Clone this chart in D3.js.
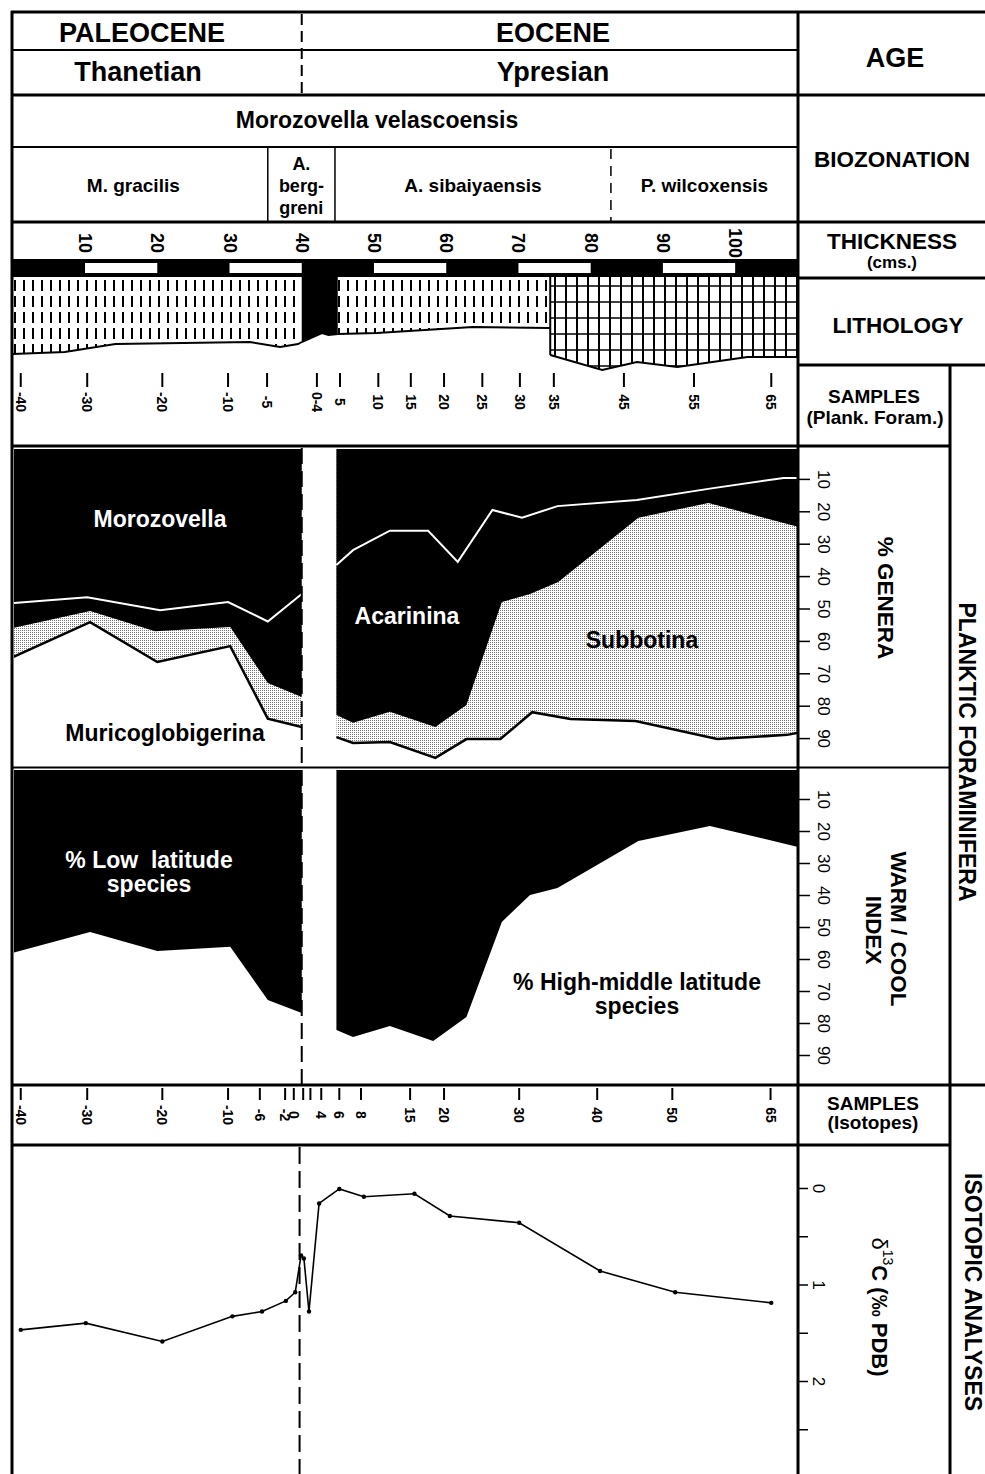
<!DOCTYPE html>
<html>
<head>
<meta charset="utf-8">
<script src="https://cdn.jsdelivr.net/npm/d3@7"></script>
<style>
body { margin: 0; background: #fff; }
svg { display: block; font-family: "Liberation Sans", Arial, Helvetica, sans-serif; }
</style>
</head>
<body>
<svg width="985" height="1474"></svg>
<script>
var font = "'Liberation Sans', Arial, Helvetica, sans-serif";
var svg = d3.select("svg");

// ---------------- data (thickness in cm along the section) ----------------
var thicknessTicks = [10, 20, 30, 40, 50, 60, 70, 80, 90, 100];
var barWhite = [[10, 20], [30, 40], [50, 60], [70, 80], [90, 100]];
var sectionEnd = 108.7;
var peBoundary = 40.0;     // Paleocene / Eocene
var isoBoundary = 39.7;

var zoneEdges = [0, 35.3, 44.6, 82.8, 108.7];

var plankLabels = ["-40", "-30", "-20", "-10", "-5", "0-4", "5", "10", "15", "20", "25", "30", "35", "45", "55", "65"];
var plankPos = [1.1, 10.3, 20.7, 29.8, 35.2, 42.1, 45.3, 50.6, 55.1, 59.7, 65.0, 70.2, 74.9, 84.6, 94.3, 105.0];

var isoLabels = ["-40", "-30", "-20", "-10", "-6", "-2", "0", "", "", "4", "6", "8", "15", "20", "30", "40", "50", "65"];
var isoPos = [1.1, 10.3, 20.7, 29.8, 34.2, 37.7, 38.9, 40.2, 41.2, 42.7, 45.2, 48.2, 55.0, 59.7, 70.1, 80.9, 91.3, 104.9];

// lithology: base of each unit (depth below top of column, 0-100)
var marl1X = [0, 7.2, 14.2, 32.8, 37.0, 39.5, 40.0];
var marl1Base = [77, 75, 67, 65, 70, 67, 65];
var clayX = [40.0, 42.8, 43.7, 45.0];
var clayBase = [65, 56, 58, 57];
var marl2X = [45.0, 50.4, 63.7, 74.4];
var marl2Base = [57, 56, 50, 51];
var limeX = [74.4, 81.6, 86.4, 92.0, 101.7, 108.7];
var limeBase = [78, 93, 85, 90, 80, 80];

// % genera, cumulative from the top
var moroLeftX = [0, 10.3, 20.4, 29.8, 35.3, 40.0];
var moroLeft = [48.3, 46.5, 50.5, 48, 54, 45.5];
var moroRightX = [44.8, 47.1, 52.2, 57.5, 61.6, 66.4, 70.5, 75.4, 86.4, 96.5, 106.7, 108.7];
var moroRight = [36.6, 32, 26, 26, 35.6, 19.6, 22, 18.4, 16.5, 13, 9.7, 9.7];

var acaLeftX = [0, 10.7, 19.7, 30.1, 35.3, 40.0];
var acaLeft = [56, 50.8, 57, 55.7, 73, 77.3];
var acaRightX = [44.8, 47.1, 52.2, 58.5, 62.8, 67.7, 71.6, 75.5, 86.6, 96.3, 108.7];
var acaRight = [82.9, 85.3, 81.9, 86.6, 79.8, 48, 45.5, 41.8, 22, 17.4, 24.8];

var subLeftX = [0, 10.7, 20.0, 30.1, 35.3, 40.0];
var subLeft = [65, 54.2, 66.5, 61.6, 84, 86.6];
var subRightX = [44.8, 47.1, 52.2, 58.5, 62.8, 67.5, 71.9, 77.2, 86.2, 97.5, 107.2, 108.7];
var subRight = [89.7, 91.5, 91.2, 96.1, 90.3, 90.3, 82, 84.1, 84.7, 90.3, 89, 88.4];

// warm / cool index: % low latitude species
var lowLeftX = [0, 10.7, 20.0, 30.1, 35.3, 40.0];
var lowLeft = [58.1, 51.6, 57.5, 56.2, 72.8, 76.9];
var lowRightX = [44.8, 47.1, 52.2, 58.2, 62.8, 67.7, 71.6, 75.4, 86.6, 96.5, 108.7];
var lowRight = [82.2, 84.4, 80.9, 85.6, 78.1, 48.4, 40, 37.8, 23.1, 18.4, 25];

// d13C
var isoX = [1.1, 10.1, 20.7, 30.4, 34.5, 37.8, 39.1, 39.9, 40.3, 41.0, 42.4, 45.2, 48.6, 55.6, 60.5, 70.1, 81.3, 91.7, 105.0];
var isoVal = [1.47, 1.40, 1.59, 1.33, 1.28, 1.17, 1.08, 0.70, 0.73, 1.28, 0.16, 0.01, 0.09, 0.06, 0.29, 0.36, 0.86, 1.08, 1.19];

var pctTicks = [10, 20, 30, 40, 50, 60, 70, 80, 90];
var isoTicks = [0, 0.5, 1, 1.5, 2, 2.5];

// ---------------- scales ----------------
var xScale = d3.scaleLinear().domain([0, sectionEnd]).range([12.8, 798]);
var lithoY = d3.scaleLinear().domain([0, 100]).range([277, 377]);
var genY = d3.scaleLinear().domain([0, 100]).range([446.5, 770.5]);
var warmY = d3.scaleLinear().domain([0, 100]).range([767, 1087]);
var isoY = d3.scaleLinear().domain([0, 3]).range([1188, 1477.5]);

function seg(xs, ys) { return xs.map(function (d, i) { return { x: d, y: ys[i] }; }); }

// ---------------- patterns ----------------
var defs = svg.append("defs");
var marl = defs.append("pattern").attr("id", "marl").attr("patternUnits", "userSpaceOnUse")
    .attr("width", 9).attr("height", 16).attr("x", 2).attr("y", 279);
marl.append("rect").attr("width", 9).attr("height", 16).attr("fill", "white");
marl.append("line").attr("x1", 4).attr("x2", 4).attr("y1", 1).attr("y2", 12)
    .attr("stroke", "black").attr("stroke-width", 2);

var lime = defs.append("pattern").attr("id", "lime").attr("patternUnits", "userSpaceOnUse")
    .attr("width", 11).attr("height", 16).attr("x", 0).attr("y", 278);
lime.append("rect").attr("width", 11).attr("height", 16).attr("fill", "white");
lime.append("path").attr("d", "M5,0V16").attr("stroke", "black").attr("stroke-width", 2);
lime.append("path").attr("d", "M0,8H11").attr("stroke", "black").attr("stroke-width", 1.5);

var stip = defs.append("pattern").attr("id", "stipple").attr("patternUnits", "userSpaceOnUse")
    .attr("width", 2).attr("height", 2);
stip.append("rect").attr("width", 2).attr("height", 2).attr("fill", "white");
stip.append("rect").attr("width", 1).attr("height", 1).attr("fill", "#777");

defs.append("clipPath").attr("id", "genClip").append("rect")
    .attr("x", 14).attr("y", 449).attr("width", 783).attr("height", 317);
defs.append("clipPath").attr("id", "warmClip").append("rect")
    .attr("x", 14).attr("y", 770).attr("width", 783).attr("height", 314);

// ---------------- helpers ----------------
function txt(x, y, s, size, opts) {
    opts = opts || {};
    return svg.append("text")
        .attr("x", x).attr("y", y)
        .attr("text-anchor", opts.anchor || "middle")
        .attr("font-size", size)
        .attr("font-weight", opts.weight || "bold")
        .attr("fill", opts.fill || "black")
        .text(s);
}
function rtxt(x, y, s, size, opts) {
    opts = opts || {};
    return svg.append("text")
        .attr("transform", "translate(" + x + "," + y + ") rotate(90)")
        .attr("text-anchor", opts.anchor || "middle")
        .attr("dominant-baseline", "central")
        .attr("font-size", size)
        .attr("font-weight", opts.weight || "bold")
        .attr("fill", opts.fill || "black")
        .text(s);
}
function hline(y, x1, x2, w) {
    svg.append("line").attr("x1", x1).attr("x2", x2).attr("y1", y).attr("y2", y)
        .attr("stroke", "black").attr("stroke-width", w);
}
function vline(x, y1, y2, w, dash) {
    svg.append("line").attr("x1", x).attr("x2", x).attr("y1", y1).attr("y2", y2)
        .attr("stroke", "black").attr("stroke-width", w)
        .attr("stroke-dasharray", dash || null);
}

// ---------------- thickness scale bar ----------------
svg.append("rect").attr("x", xScale(0)).attr("y", 259)
    .attr("width", xScale(sectionEnd) - xScale(0)).attr("height", 18).attr("fill", "black");
svg.selectAll(".barw").data(barWhite).enter().append("rect")
    .attr("x", d => xScale(d[0])).attr("y", 263)
    .attr("width", d => xScale(d[1]) - xScale(d[0])).attr("height", 10).attr("fill", "white");

thicknessTicks.forEach(function (t) {
    rtxt(xScale(t), 243, t, 18);
});

// ---------------- lithology ----------------
var lithoArea = d3.area().x(d => xScale(d.x)).y0(lithoY(0)).y1(d => lithoY(d.y));
var lithoLine = d3.line().x(d => xScale(d.x)).y(d => lithoY(d.y));
[[marl1X, marl1Base, "url(#marl)"], [clayX, clayBase, "black"],
 [marl2X, marl2Base, "url(#marl)"], [limeX, limeBase, "url(#lime)"]].forEach(function (u) {
    var d = seg(u[0], u[1]);
    svg.append("path").datum(d).attr("d", lithoArea).attr("fill", u[2]);
    svg.append("path").datum(d).attr("d", lithoLine).attr("fill", "none")
        .attr("stroke", "black").attr("stroke-width", 2);
});
// left edge of limestone
vline(xScale(limeX[0]), lithoY(0), lithoY(limeBase[0]), 2);

// ---------------- samples (plankt. foram.) ----------------
plankPos.forEach(function (p, i) {
    vline(xScale(p), 373, 387, 2);
    rtxt(xScale(p), 402, plankLabels[i], 14);
});

// ---------------- % genera ----------------
var gen = svg.append("g").attr("clip-path", "url(#genClip)");
var genArea = d3.area().x(d => xScale(d.x)).y0(genY(0)).y1(d => genY(d.y));
var genLine = d3.line().x(d => xScale(d.x)).y(d => genY(d.y));
[[subLeftX, subLeft, acaLeftX, acaLeft, moroLeftX, moroLeft],
 [subRightX, subRight, acaRightX, acaRight, moroRightX, moroRight]].forEach(function (s) {
    gen.append("path").datum(seg(s[0], s[1])).attr("d", genArea).attr("fill", "url(#stipple)");
    gen.append("path").datum(seg(s[2], s[3])).attr("d", genArea).attr("fill", "black");
    gen.append("path").datum(seg(s[4], s[5])).attr("d", genLine).attr("fill", "none")
        .attr("stroke", "white").attr("stroke-width", 2);
    gen.append("path").datum(seg(s[0], s[1])).attr("d", genLine).attr("fill", "none")
        .attr("stroke", "black").attr("stroke-width", 2.5);
});
txt(160, 527, "Morozovella", 23, { fill: "white" });
txt(407, 624, "Acarinina", 23, { fill: "white" });
txt(165, 741, "Muricoglobigerina", 23);
txt(642, 648, "Subbotina", 23);

// ---------------- warm / cool index ----------------
var warm = svg.append("g").attr("clip-path", "url(#warmClip)");
var warmArea = d3.area().x(d => xScale(d.x)).y0(warmY(0)).y1(d => warmY(d.y));
[[lowLeftX, lowLeft], [lowRightX, lowRight]].forEach(function (s) {
    warm.append("path").datum(seg(s[0], s[1])).attr("d", warmArea).attr("fill", "black");
});
txt(149, 868, "% Low\u00a0\u00a0latitude", 23, { fill: "white" });
txt(149, 892, "species", 23, { fill: "white" });
txt(637, 990, "% High-middle latitude", 23);
txt(637, 1014, "species", 23);

// ---------------- samples (isotopes) ----------------
isoPos.forEach(function (p, i) {
    vline(xScale(p), 1088, 1100, 2);
    if (isoLabels[i]) rtxt(xScale(p), 1115, isoLabels[i], 14);
});

// ---------------- d13C ----------------
var isoLine = d3.line().x(d => xScale(d.x)).y(d => isoY(d.y));
var isoData = seg(isoX, isoVal);
svg.append("path").datum(isoData).attr("d", isoLine).attr("fill", "none")
    .attr("stroke", "black").attr("stroke-width", 1.6);
svg.selectAll(".isopt").data(isoData).enter().append("circle")
    .attr("cx", d => xScale(d.x)).attr("cy", d => isoY(d.y)).attr("r", 2.2).attr("fill", "black");

// ---------------- right-hand axes ----------------
function rightAxis(scale, ticks, fmt, size, off) {
    var g = svg.append("g").attr("transform", "translate(798,0)")
        .call(d3.axisRight(scale).tickValues(ticks).tickSize(size).tickFormat(fmt));
    g.attr("font-family", font).attr("font-size", 17);
    g.select(".domain").remove();
    g.selectAll(".tick line").attr("stroke", "black").attr("stroke-width", 1.5);
    g.selectAll(".tick text").attr("x", 0).attr("dy", null).attr("fill", "black")
        .attr("transform", "translate(" + off + ",0) rotate(90)")
        .attr("text-anchor", "middle").attr("dominant-baseline", "central");
}
rightAxis(genY, pctTicks, d3.format("d"), 12, 25);
rightAxis(warmY, pctTicks, d3.format("d"), 12, 25);
rightAxis(isoY, isoTicks, d => Number.isInteger(d) ? d : "", 10, 20);

// ---------------- frame & grid ----------------
hline(12, 11, 985, 3);
hline(50, 12, 798, 2);
hline(95, 12, 985, 3);
hline(147, 12, 798, 2);
hline(222, 12, 985, 3);
hline(278, 798, 985, 3);
hline(365, 798, 985, 3);
hline(446, 12, 950, 3);
hline(767.5, 12, 950, 2);
hline(1085, 12, 985, 3);
hline(1145, 12, 950, 3);
vline(12, 11, 1474, 3);
vline(798, 11, 1474, 3);
vline(950, 365, 1474, 3);

// biozone boundaries
vline(xScale(zoneEdges[1]), 147, 222, 1.5);
vline(xScale(zoneEdges[2]), 147, 222, 1.5);
vline(xScale(zoneEdges[3]), 149, 221, 1.5, "10,7");

// Paleocene / Eocene boundary
vline(xScale(peBoundary), 14, 94, 2, "11,6");
vline(xScale(peBoundary), 448, 1084, 2, "16,7");
vline(xScale(isoBoundary), 1147, 1474, 2, "17,7");

// ---------------- header text ----------------
txt(142, 42, "PALEOCENE", 27);
txt(553, 42, "EOCENE", 27);
txt(138, 81, "Thanetian", 27);
txt(553, 81, "Ypresian", 27);
txt(377, 128, "Morozovella velascoensis", 23);

var zc = function (i) { return (xScale(zoneEdges[i]) + xScale(zoneEdges[i + 1])) / 2; };
txt(zc(0) - 7, 192, "M. gracilis", 19);
txt(zc(1), 170, "A.", 18);
txt(zc(1), 192, "berg-", 18);
txt(zc(1), 214, "greni", 18);
txt(zc(2), 192, "A. sibaiyaensis", 19);
txt(zc(3), 192, "P. wilcoxensis", 19);

// right column labels
txt(895, 67, "AGE", 27);
txt(892, 167, "BIOZONATION", 22.5);
txt(892, 249, "THICKNESS", 22.5);
txt(892, 268, "(cms.)", 17);
txt(898, 333, "LITHOLOGY", 22.5);
txt(874, 403, "SAMPLES", 19);
txt(875, 424, "(Plank. Foram.)", 19);
txt(873, 1110, "SAMPLES", 19);
txt(873, 1129, "(Isotopes)", 19);

rtxt(885, 598, "% GENERA", 22.5);
rtxt(898, 929, "WARM / COOL", 22.5);
rtxt(873, 930, "INDEX", 22.5);
rtxt(967, 752, "PLANKTIC FORAMINIFERA", 23);
rtxt(973, 1292, "ISOTOPIC ANALYSES", 23);

var d13 = svg.append("text")
    .attr("transform", "translate(880,1307) rotate(90)")
    .attr("text-anchor", "middle").attr("dominant-baseline", "central")
    .attr("font-size", 22).attr("font-weight", "bold");
d13.append("tspan").attr("font-weight", "normal").text("\u03b4");
d13.append("tspan").attr("font-size", 14).attr("dy", -8).attr("font-weight", "normal").text("13");
d13.append("tspan").attr("dy", 8).text("C (\u2030 PDB)");
</script>
</body>
</html>
